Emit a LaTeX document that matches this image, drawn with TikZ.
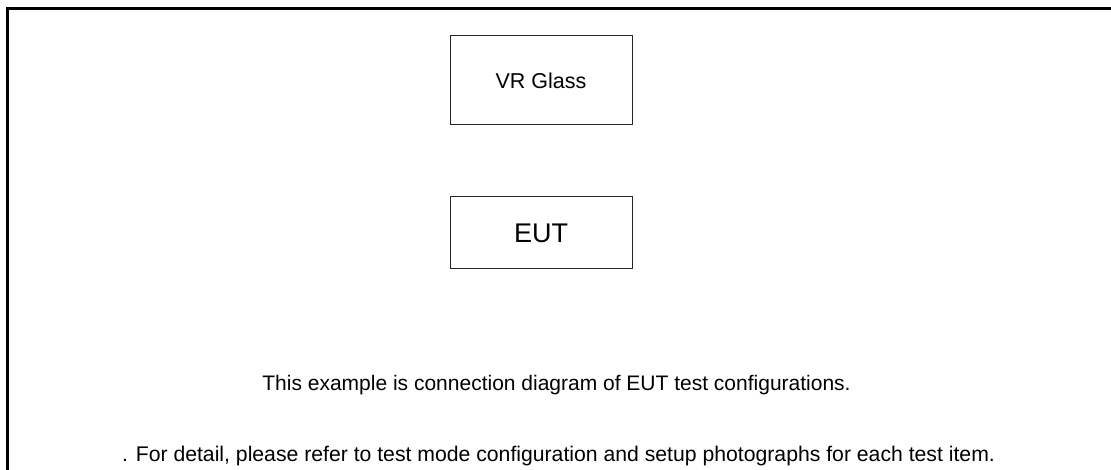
\documentclass[tikz,border=0pt]{standalone}
\usepackage{fontspec}
\setmainfont{Liberation Sans}
\begin{document}
\begin{tikzpicture}[x=1pt,y=-1pt,
  devbox/.style={draw=black!85,line width=1pt,minimum width=182pt,inner sep=0pt},
  note/.style={anchor=base,inner sep=0pt,font=\fontsize{21}{24}\selectfont}]
\useasboundingbox (0,0) rectangle (1111,470);
\draw[line width=3pt] (7,470) -- (7,9) -- (1111,9);
\node[devbox,minimum height=89pt,font=\fontsize{21.5}{24}\selectfont] (vr) at (541,80.5) {VR Glass};
\node[devbox,minimum height=72pt,font=\fontsize{27}{30}\selectfont] (eut) at (541,233) {EUT};
\node[note] (l1) at (556.5,390) {This example is connection diagram of EUT test configurations.};
\node[note,font=\fontsize{21.2}{24}\selectfont] (l2) at (558.5,461) {. For detail, please refer to test mode configuration and setup photographs for each test item.};
\end{tikzpicture}
\end{document}
